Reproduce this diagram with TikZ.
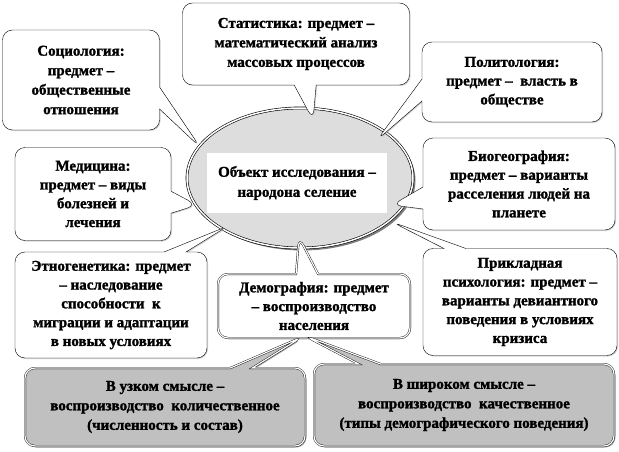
\documentclass[tikz,border=0pt]{standalone}
\usepackage{fontspec}
\setmainfont{Liberation Serif}[BoldFeatures={FakeBold=1.5}]
\usetikzlibrary{shapes.callouts, shapes.geometric, shadows, positioning}
\definecolor{coregray}{HTML}{DDDDDD}
\definecolor{boxgray}{HTML}{C0C0C0}
\tikzset{
  bubble/.style={rectangle callout, draw, fill=white, rounded corners=10pt, align=center,
    inner sep=1pt, font=\bfseries\fontsize{15}{18.8}\selectfont, callout pointer width=22pt,
    drop shadow={fill=gray!70, shadow xshift=1pt, shadow yshift=-1pt}},
  widelines/.style={font=\bfseries\fontsize{15}{19.5}\selectfont},
  dembox/.style={bubble, double, double distance=1.2pt},
  greybox/.style={bubble, widelines, double, double distance=1.2pt, fill=boxgray,
    drop shadow={fill=gray!80!black, shadow xshift=1.5pt, shadow yshift=-1.5pt}},
  core/.style={ellipse, draw, double, double distance=1.5pt, line width=0.6pt, fill=coregray,
    drop shadow={fill=black, shadow xshift=2.5pt, shadow yshift=-2.5pt}},
  title/.style={fill=white, align=center, font=\bfseries\fontsize{15}{20}\selectfont},
}

\begin{document}
\begin{tikzpicture}[x=1pt, y=-1pt]
  \useasboundingbox (0,0) rectangle (619,452);
  % pointer tips
  \coordinate (tSoc) at (200,147);
  \coordinate (tStat) at (313,120);
  \coordinate (tPol) at (377,140);
  \coordinate (tBio) at (392,205);
  \coordinate (tMed) at (197,205);
  \coordinate (tEth) at (228,226);
  \coordinate (tDem) at (299,237);
  \coordinate (tPsy) at (392,222);
  \coordinate (tNar) at (302,337);
  \coordinate (tWid) at (305,336);
  % centre
  \node[core, minimum width=226pt, minimum height=140pt] (obj) at (300,178) {};
  \node[title, minimum width=180pt, minimum height=60pt] (objtext) at (297,183)
    {Объект исследования –\\народона селение};
  % sciences
  \node[bubble, widelines, minimum width=157pt, minimum height=100pt, callout absolute pointer={(tSoc)}]
    (soc) at (81,80) {Социология:\\предмет –\\общественные\\отношения};
  \node[bubble, widelines, minimum width=227pt, minimum height=82pt, callout absolute pointer={(tStat)}]
    (stat) at (296,44) {Статистика: предмет –\\математический анализ\\массовых процессов};
  \node[bubble, minimum width=180pt, minimum height=80pt, callout absolute pointer={(tPol)}]
    (pol) at (512,82) {Политология:\\предмет –\ \ власть в\\обществе};
  \node[bubble, minimum width=192pt, minimum height=92pt, callout absolute pointer={(tBio)}]
    (bio) at (519,184) {Биогеография:\\предмет – варианты\\расселения людей на\\планете};
  \node[bubble, minimum width=156pt, minimum height=93pt, callout absolute pointer={(tMed)}]
    (med) at (93,194) {Медицина:\\предмет – виды\\болезней и\\лечения};
  \node[bubble, minimum width=192pt, minimum height=106pt, callout absolute pointer={(tEth)}]
    (eth) at (111,305) {Этногенетика: предмет\\– наследование\\способности\ \ к\\миграции и адаптации\\в новых условиях};
  \node[bubble, minimum width=194pt, minimum height=107pt, callout absolute pointer={(tPsy)}]
    (psy) at (520,302) {Прикладная\\психология: предмет –\\варианты девиантного\\поведения в условиях\\кризиса};
  \node[dembox, minimum width=192pt, minimum height=64pt, callout absolute pointer={(tDem)}]
    (dem) at (314,306) {Демография: предмет\\– воспроизводство\\населения};
  % two senses
  \node[greybox, minimum width=280pt, minimum height=78pt, callout absolute pointer={(tNar)}]
    (narrow) at (165,407) {В узком смысле –\\воспроизводство\ \ количественное\\(численность и состав)};
  \node[greybox, minimum width=300pt, minimum height=82pt, callout absolute pointer={(tWid)}]
    (wide) at (464,405) {В широком смысле –\\воспроизводство\ \ качественное\\(типы демографического поведения)};
\end{tikzpicture}
\end{document}
